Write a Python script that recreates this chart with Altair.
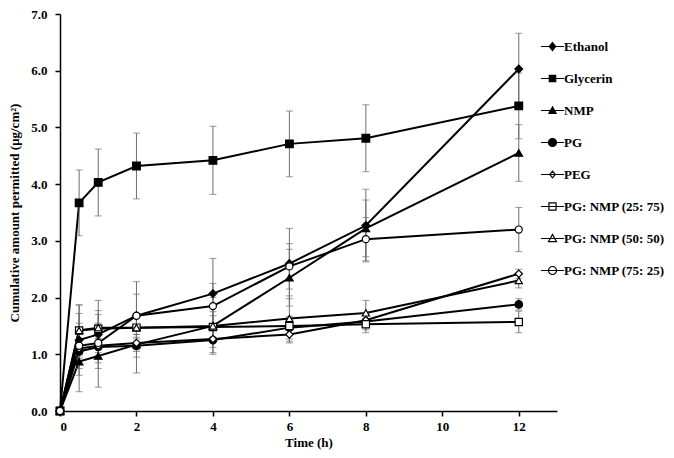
import altair as alt
import pandas as pd

times = [0, 0.5, 1, 2, 4, 6, 8, 12]
series = ["Ethanol", "Glycerin", "NMP", "PG", "PEG",
          "PG: NMP (25: 75)", "PG: NMP (50: 50)", "PG: NMP (75: 25)"]

ethanol = [0, 1.25, 1.35, 1.68, 2.07, 2.60, 3.27, 6.03]
glycerin = [0, 3.67, 4.03, 4.32, 4.42, 4.71, 4.81, 5.38]
nmp = [0, 0.87, 0.97, 1.17, 1.50, 2.35, 3.22, 4.55]
pg = [0, 1.05, 1.13, 1.15, 1.25, 1.47, 1.58, 1.88]
peg = [0, 1.10, 1.15, 1.20, 1.27, 1.35, 1.60, 2.42]
pn2575 = [0, 1.42, 1.45, 1.47, 1.48, 1.50, 1.53, 1.57]
pn5050 = [0, 1.42, 1.47, 1.47, 1.50, 1.63, 1.73, 2.30]
pn7525 = [0, 1.15, 1.20, 1.68, 1.85, 2.55, 3.03, 3.20]

err_ethanol = [0, 0.62, 0.60, 0.60, 0.62, 0.62, 0.64, 0.63]
err_glycerin = [0, 0.58, 0.59, 0.58, 0.60, 0.58, 0.59, 0.58]
err_nmp = [0, 0.53, 0.55, 0.50, 0.50, 0.50, 0.50, 0.50]
err_pg = [0, 0.12, 0.15, 0.20, 0.22, 0.20, 0.15, 0.10]
err_peg = [0, 0.10, 0.12, 0.15, 0.15, 0.15, 0.12, 0.08]
err_2575 = [0, 0.45, 0.25, 0.20, 0.20, 0.15, 0.15, 0.19]
err_5050 = [0, 0.30, 0.30, 0.25, 0.25, 0.40, 0.22, 0.13]
err_7525 = [0, 0.40, 0.35, 0.38, 0.40, 0.40, 0.38, 0.39]

values = [ethanol, glycerin, nmp, pg, peg, pn2575, pn5050, pn7525]
errors = [err_ethanol, err_glycerin, err_nmp, err_pg, err_peg, err_2575, err_5050, err_7525]

rows = []
for s, vals, errs in zip(series, values, errors):
    for t, v, e in zip(times, vals, errs):
        rows.append({"series": s, "t": t, "v": v, "lo": v - e, "hi": v + e, "e": e})
df = pd.DataFrame(rows)

shapes = ["diamond", "square", "triangle-up", "circle", "diamond", "square", "triangle-up", "circle"]
fills = ["black"] * 4 + ["white"] * 4
strokes = ["black"] * 8
sizes_marker = [60, 50, 55, 70, 36, 70, 70, 80]

# legend symbols: line through the marker
ln = "M-2.9,0H2.9"
leg_paths = [
    ln + "M0,-1L0.8,0L0,1L-0.8,0Z",
    ln + "M-0.8,-0.8H0.8V0.8H-0.8Z",
    ln + "M0,-0.9L0.9,0.7H-0.9Z",
    ln + "M-1,0A1,1 0 1,0 1,0A1,1 0 1,0 -1,0Z",
    ln + "M0,-0.85L0.7,0L0,0.85L-0.7,0Z",
    ln + "M-0.9,-0.9H0.9V0.9H-0.9Z",
    ln + "M0,-1L1,0.8H-1Z",
    ln + "M-1,0A1,1 0 1,0 1,0A1,1 0 1,0 -1,0Z",
]

xscale = alt.Scale(domain=[0, 13], nice=False, zero=False)
yscale = alt.Scale(domain=[0, 7], nice=False)
font = "Liberation Serif"

x_enc = alt.X("t:Q", scale=xscale, title="Time (h)",
              axis=alt.Axis(values=[0, 2, 4, 6, 8, 10, 12], format="d", grid=False))
y_enc = alt.Y("v:Q", scale=yscale, title="Cumulative amount permitted (μg/cm²)",
              axis=alt.Axis(values=[0, 1, 2, 3, 4, 5, 6, 7], format=".1f", grid=False))

base = alt.Chart(df)

err_df = df[df["e"] > 0]
rules = alt.Chart(err_df).mark_rule(color="#6e6e6e", strokeWidth=1).encode(
    x=alt.X("t:Q", scale=xscale), y=alt.Y("lo:Q", scale=yscale), y2="hi:Q")
cap_lo = alt.Chart(err_df).mark_tick(color="#6e6e6e", orient="horizontal", size=7, thickness=1).encode(
    x=alt.X("t:Q", scale=xscale), y=alt.Y("lo:Q", scale=yscale))
cap_hi = alt.Chart(err_df).mark_tick(color="#6e6e6e", orient="horizontal", size=7, thickness=1).encode(
    x=alt.X("t:Q", scale=xscale), y=alt.Y("hi:Q", scale=yscale))

lines = base.mark_line(color="black", strokeWidth=2).encode(
    x=x_enc, y=y_enc, detail="series:N", order="t:Q")

points = base.mark_point(filled=False, stroke="black", strokeWidth=1.2, opacity=1).encode(
    x=alt.X("t:Q", scale=xscale),
    y=alt.Y("v:Q", scale=yscale),
    shape=alt.Shape("series:N", scale=alt.Scale(domain=series, range=shapes), legend=None),
    fill=alt.Fill("series:N", scale=alt.Scale(domain=series, range=fills), legend=None),
    size=alt.Size("series:N", scale=alt.Scale(domain=series, range=sizes_marker), legend=None),
)

leg_kwargs = dict(title=None, orient="none", legendX=486, legendY=26,
                  symbolSize=64, labelOffset=5, rowPadding=18,
                  symbolStrokeColor="black", symbolStrokeWidth=1.2,
                  labelFont=font, labelFontSize=13, labelFontWeight="bold",
                  labelColor="black", labelLimit=200)

legend_layer = base.transform_filter("datum.t < 0").mark_point(
    filled=False, strokeWidth=1.2, opacity=1, size=64).encode(
    x=alt.X("t:Q", scale=xscale),
    y=alt.Y("v:Q", scale=yscale),
    shape=alt.Shape("series:N", scale=alt.Scale(domain=series, range=leg_paths),
                    legend=alt.Legend(**leg_kwargs)),
    fill=alt.Fill("series:N", scale=alt.Scale(domain=series, range=fills),
                  legend=alt.Legend(**leg_kwargs)),
    stroke=alt.Stroke("series:N", scale=alt.Scale(domain=series, range=strokes),
                      legend=alt.Legend(**leg_kwargs)),
)

chart = alt.layer(lines, rules, cap_lo, cap_hi, points, legend_layer).resolve_scale(
    shape="independent", fill="independent", size="independent", stroke="independent"
).properties(
    width=497, height=397,
    autosize=alt.AutoSizeParams(type="none"),
    padding={"left": 52, "top": 6, "right": 109, "bottom": 39},
).configure_view(stroke=None).configure_axis(
    domainColor="black", domainWidth=1.5, tickColor="black", tickWidth=1.5, tickSize=5,
    labelFont=font, labelFontSize=13, labelFontWeight="bold", labelColor="black",
    titleFont=font, titleFontSize=13, titleFontWeight="bold", titleColor="black",
).configure_axisY(labelPadding=8, titlePadding=9).configure_axisX(labelPadding=4, titlePadding=3)

chart.save("out.html", embed_options={"renderer": "svg", "actions": False})
